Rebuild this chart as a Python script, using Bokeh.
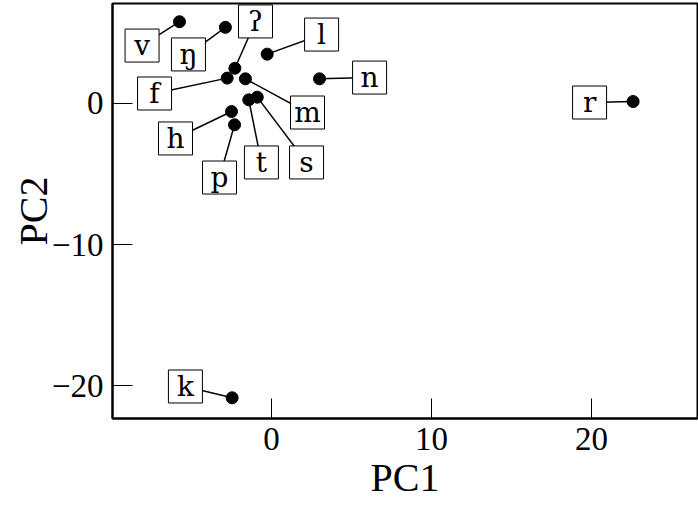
from bokeh.plotting import figure
from bokeh.models import ColumnDataSource, FixedTicker, Range1d
from bokeh.core.properties import value
from bokeh.embed import file_html
from bokeh.resources import INLINE

# data
labels = ["v", "ŋ", "ʔ", "l", "n", "f", "m", "t", "s", "h", "p", "r", "k"]
pc1 = [-5.75, -2.88, -2.29, -0.27, 3.0, -2.77, -1.63, -1.42, -0.89, -2.5, -2.31, 22.6, -2.46]
pc2 = [5.8, 5.4, 2.5, 3.5, 1.75, 1.8, 1.75, 0.26, 0.45, -0.57, -1.51, 0.14, -20.87]
# label anchor positions (data units)
label_x = [-8.09, -5.19, -1.0, 3.13, 6.13, -7.31, 2.25, -0.63, 2.19, -6.0, -3.25, 19.88, -5.38]
label_y = [4.11, 3.48, 5.82, 4.89, 1.84, 0.71, -0.64, -4.18, -4.18, -2.48, -5.25, 0.07, -20.07]
x_ticks = [0, 10, 20]
y_ticks = [-20, -10, 0]

FONT = "Liberation Serif"
LFONT = "DejaVu Serif"

src = ColumnDataSource(dict(x=pc1, y=pc2, lx=label_x, ly=label_y, label=labels))

p = figure(width=698, height=511, output_backend="svg", toolbar_location=None,
           x_range=Range1d(-9.9375, 26.625), y_range=Range1d(-22.34, 7.092),
           min_border_left=112, min_border_right=1, min_border_top=3, min_border_bottom=93)
p.grid.visible = False
p.background_fill_color = "white"
p.border_fill_color = "white"
p.outline_line_color = "black"
p.outline_line_width = 2

p.segment(x0="x", y0="y", x1="lx", y1="ly", source=src, line_color="black", line_width=1.5)
p.scatter(x="x", y="y", source=src, size=12, color="black")
p.rect(x="lx", y="ly", width=34, height=33, width_units="screen", height_units="screen",
       source=src, fill_color="white", line_color="black", line_width=1)
p.text(x="lx", y="ly", text="label", source=src, text_font=value(LFONT), text_font_size="28px",
       text_align="center", text_baseline="middle", text_color="black")

for ax in (p.xaxis[0], p.yaxis[0]):
    ax.major_tick_in = 20
    ax.major_tick_out = 0
    ax.minor_tick_in = 0
    ax.minor_tick_out = 0
    ax.major_tick_line_color = "black"
    ax.major_tick_line_width = 1
    ax.axis_line_color = "black"
    ax.axis_line_width = 2
    ax.major_label_text_font = FONT
    ax.major_label_text_font_size = "33px"
    ax.major_label_text_color = "black"
    ax.major_label_standoff = 9
    ax.axis_label_text_font = FONT
    ax.axis_label_text_font_size = "40px"
    ax.axis_label_text_font_style = "normal"
    ax.axis_label_text_color = "black"

p.xaxis.ticker = FixedTicker(ticks=x_ticks)
p.yaxis.ticker = FixedTicker(ticks=y_ticks)
p.yaxis.major_label_overrides = {-10: "−10", -20: "−20"}
p.xaxis.axis_label = "PC1"
p.yaxis.axis_label = "PC2"
p.xaxis.axis_label_standoff = 2
p.yaxis.axis_label_standoff = -7

open("out.html", "w").write(file_html(p, INLINE))
